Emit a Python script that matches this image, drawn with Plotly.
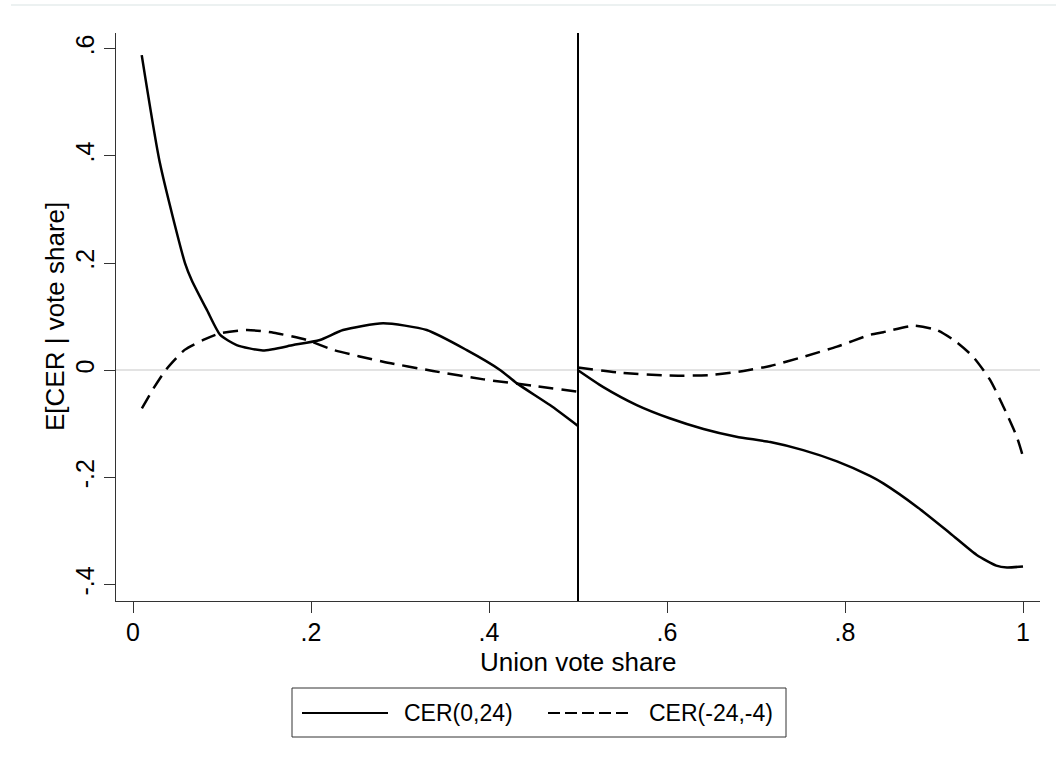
import plotly.graph_objects as go

# ---- data ----
solid_left_x = [0.0098, 0.0303, 0.0584, 0.066, 0.083, 0.098, 0.1165, 0.146, 0.180, 0.210,
                0.236, 0.281, 0.330, 0.3745, 0.4124, 0.431, 0.4685, 0.500]
solid_left_y = [0.588, 0.386, 0.200, 0.168, 0.1125, 0.066, 0.047, 0.037, 0.047, 0.0565,
                0.075, 0.0877, 0.075, 0.038, 0.0006, -0.024, -0.065, -0.104]

solid_right_x = [0.500, 0.528, 0.566, 0.603, 0.641, 0.678, 0.716, 0.753, 0.791, 0.828,
                 0.843, 0.8806, 0.918, 0.948, 0.970, 0.982, 1.000]
solid_right_y = [0.000, -0.031, -0.065, -0.0896, -0.1095, -0.124, -0.134, -0.149, -0.170, -0.197,
                 -0.211, -0.2545, -0.304, -0.3446, -0.3645, -0.368, -0.366]

dash_left_x = [0.010, 0.023, 0.0375, 0.058, 0.079, 0.098, 0.128, 0.158, 0.195, 0.225,
               0.281, 0.337, 0.394, 0.450, 0.500]
dash_left_y = [-0.071, -0.034, 0.002, 0.038, 0.0565, 0.069, 0.075, 0.070, 0.0565, 0.038,
               0.016, -0.0013, -0.017, -0.029, -0.040]

dash_right_x = [0.500, 0.547, 0.603, 0.648, 0.686, 0.716, 0.753, 0.791, 0.828, 0.843,
                0.877, 0.903, 0.925, 0.944, 0.963, 0.978, 0.993, 1.000]
dash_right_y = [0.005, -0.0045, -0.010, -0.009, -0.0013, 0.008, 0.025, 0.044, 0.066, 0.071,
                0.083, 0.075, 0.053, 0.025, -0.018, -0.068, -0.124, -0.161]

x_ticks = [0, 0.2, 0.4, 0.6, 0.8, 1]
x_tick_labels = ["0", ".2", ".4", ".6", ".8", "1"]
y_ticks = [-0.4, -0.2, 0, 0.2, 0.4, 0.6]
y_tick_labels = ["-.4", "-.2", "0", ".2", ".4", ".6"]

series_names = ["CER(0,24)", "CER(-24,-4)"]
x_title = "Union vote share"
y_title = "E[CER | vote share]"
cutoff = 0.5

FONT = "Liberation Sans, Arial, sans-serif"
DASH = "15px,8px"
LEG_DASH = "12px,5px"
LW = 2.5

fig = go.Figure()
solid = dict(color="black", width=LW, shape="spline", smoothing=0.6)
dashed = dict(color="black", width=LW, dash=DASH, shape="spline", smoothing=0.6)
fig.add_trace(go.Scatter(x=solid_left_x, y=solid_left_y, mode="lines", line=solid,
                         name=series_names[0], showlegend=False))
fig.add_trace(go.Scatter(x=solid_right_x, y=solid_right_y, mode="lines", line=solid,
                         name=series_names[0], showlegend=False))
fig.add_trace(go.Scatter(x=dash_left_x, y=dash_left_y, mode="lines", line=dashed,
                         name=series_names[1], showlegend=False))
fig.add_trace(go.Scatter(x=dash_right_x, y=dash_right_y, mode="lines", line=dashed,
                         name=series_names[1], showlegend=False))

# cutoff line
fig.add_vline(x=cutoff, line=dict(color="black", width=2))

# plot geometry (pixels)
W, H = 1056, 771
L, R, T, B = 116, 16, 33, 170
pw, ph = W - L - R, H - T - B

def px(xp):
    return (xp - L) / pw

def py(yp):
    return (H - B - yp) / ph

# faint top frame line
fig.add_shape(type="line", xref="paper", yref="paper", x0=px(11), x1=px(1056),
              y0=py(5), y1=py(5), line=dict(color="#e6ecec", width=1.5))

# legend (manual, Stata style)
fig.add_shape(type="rect", xref="paper", yref="paper", x0=px(292), x1=px(786),
              y0=py(737), y1=py(688), line=dict(color="#333333", width=1), fillcolor="white")
fig.add_shape(type="line", xref="paper", yref="paper", x0=px(302), x1=px(388),
              y0=py(713), y1=py(713), line=dict(color="black", width=2))
fig.add_shape(type="line", xref="paper", yref="paper", x0=px(548), x1=px(633),
              y0=py(713), y1=py(713), line=dict(color="black", width=2, dash=LEG_DASH))
fig.add_annotation(xref="paper", yref="paper", x=px(402), y=py(713), text=series_names[0],
                   showarrow=False, xanchor="left", yanchor="middle",
                   font=dict(family=FONT, size=23, color="black"))
fig.add_annotation(xref="paper", yref="paper", x=px(647), y=py(713), text=series_names[1],
                   showarrow=False, xanchor="left", yanchor="middle",
                   font=dict(family=FONT, size=23, color="black"))

# axis titles
fig.add_annotation(xref="paper", yref="paper", x=px(578), y=py(662), text=x_title,
                   showarrow=False, xanchor="center", yanchor="middle",
                   font=dict(family=FONT, size=26, color="black"))
fig.add_annotation(xref="paper", yref="paper", x=px(55), y=py(317), text=y_title,
                   showarrow=False, xanchor="center", yanchor="middle", textangle=-90,
                   font=dict(family=FONT, size=26, color="black"))

fig.update_layout(
    width=W, height=H,
    margin=dict(l=L, r=R, t=T, b=B, pad=0),
    paper_bgcolor="white", plot_bgcolor="white",
    font=dict(family=FONT, color="black"),
    showlegend=False,
    xaxis=dict(
        range=[-0.0191, 1.0191], tickvals=x_ticks, ticktext=x_tick_labels,
        showgrid=False, zeroline=False, showline=True, linecolor="#333333", linewidth=1,
        ticks="outside", ticklen=11, tickcolor="#333333", tickwidth=1,
        tickfont=dict(size=25, family=FONT, color="black"), ticklabelstandoff=-2,
    ),
    yaxis=dict(
        range=[-0.4305, 0.6292], tickvals=y_ticks, ticktext=y_tick_labels,
        showgrid=False, zeroline=True, zerolinecolor="#e3e3e3", zerolinewidth=2,
        showline=True, linecolor="#333333", linewidth=1,
        ticks="outside", ticklen=11, tickcolor="#333333", tickwidth=1, tickangle=-90,
        tickfont=dict(size=25, family=FONT, color="black"),
    ),
)

fig.write_html("out.html", config={"displayModeBar": False},
               post_script="document.body.style.margin='0';")
